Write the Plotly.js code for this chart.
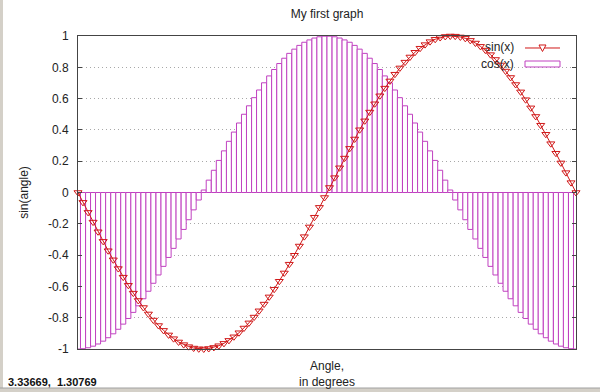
<!DOCTYPE html>
<html>
<head>
<meta charset="utf-8">
<script src="https://cdn.plot.ly/plotly-3.0.1.min.js"></script>
<style>html,body{margin:0;padding:0;background:#fff;}#chart{width:600px;height:392px;}</style>
</head>
<body>
<div id="chart"></div>
<script>
// Angle samples (degrees), 100 samples from -180 to 180
const angles = [-180, -176.4, -172.7, -169.1, -165.5, -161.8, -158.2, -154.5, -150.9, -147.3,
  -143.6, -140, -136.4, -132.7, -129.1, -125.5, -121.8, -118.2, -114.5, -110.9,
  -107.3, -103.6, -100, -96.4, -92.7, -89.1, -85.5, -81.8, -78.2, -74.5,
  -70.9, -67.3, -63.6, -60, -56.4, -52.7, -49.1, -45.5, -41.8, -38.2,
  -34.5, -30.9, -27.3, -23.6, -20, -16.4, -12.7, -9.1, -5.5, -1.8,
  1.8, 5.5, 9.1, 12.7, 16.4, 20, 23.6, 27.3, 30.9, 34.5,
  38.2, 41.8, 45.5, 49.1, 52.7, 56.4, 60, 63.6, 67.3, 70.9,
  74.5, 78.2, 81.8, 85.5, 89.1, 92.7, 96.4, 100, 103.6, 107.3,
  110.9, 114.5, 118.2, 121.8, 125.5, 129.1, 132.7, 136.4, 140, 143.6,
  147.3, 150.9, 154.5, 158.2, 161.8, 165.5, 169.1, 172.7, 176.4, 180];

const sinValues = [0, -0.063, -0.127, -0.189, -0.251, -0.312, -0.372, -0.430, -0.486, -0.541,
  -0.593, -0.643, -0.690, -0.735, -0.776, -0.815, -0.850, -0.881, -0.910, -0.934,
  -0.955, -0.972, -0.985, -0.994, -0.999, -1.000, -0.997, -0.990, -0.979, -0.964,
  -0.945, -0.922, -0.896, -0.866, -0.833, -0.796, -0.756, -0.713, -0.667, -0.618,
  -0.567, -0.514, -0.458, -0.401, -0.342, -0.282, -0.220, -0.158, -0.095, -0.032,
  0.032, 0.095, 0.158, 0.220, 0.282, 0.342, 0.401, 0.458, 0.514, 0.567,
  0.618, 0.667, 0.713, 0.756, 0.796, 0.833, 0.866, 0.896, 0.922, 0.945,
  0.964, 0.979, 0.990, 0.997, 1.000, 0.999, 0.994, 0.985, 0.972, 0.955,
  0.934, 0.910, 0.881, 0.850, 0.815, 0.776, 0.735, 0.690, 0.643, 0.593,
  0.541, 0.486, 0.430, 0.372, 0.312, 0.251, 0.189, 0.127, 0.063, 0];

const cosValues = [-1, -0.998, -0.992, -0.982, -0.968, -0.950, -0.928, -0.903, -0.874, -0.841,
  -0.805, -0.766, -0.724, -0.679, -0.631, -0.580, -0.527, -0.472, -0.415, -0.357,
  -0.297, -0.236, -0.174, -0.111, -0.048, 0.016, 0.079, 0.142, 0.205, 0.266,
  0.327, 0.386, 0.444, 0.500, 0.554, 0.606, 0.655, 0.701, 0.745, 0.786,
  0.824, 0.858, 0.889, 0.916, 0.940, 0.960, 0.975, 0.987, 0.995, 0.999,
  0.999, 0.995, 0.987, 0.975, 0.960, 0.940, 0.916, 0.889, 0.858, 0.824,
  0.786, 0.745, 0.701, 0.655, 0.606, 0.554, 0.500, 0.444, 0.386, 0.327,
  0.266, 0.205, 0.142, 0.079, 0.016, -0.048, -0.111, -0.174, -0.236, -0.297,
  -0.357, -0.415, -0.472, -0.527, -0.580, -0.631, -0.679, -0.724, -0.766, -0.805,
  -0.841, -0.874, -0.903, -0.928, -0.950, -0.968, -0.982, -0.992, -0.998, -1];

const yTickValues = [-1, -0.8, -0.6, -0.4, -0.2, 0, 0.2, 0.4, 0.6, 0.8, 1];
const yTickLabels = ["-1", "-0.8", "-0.6", "-0.4", "-0.2", "0", "0.2", "0.4", "0.6", "0.8", "1"];
const seriesNames = ["sin(x)", "cos(x)"];
const statusText = "3.33669,&nbsp; 1.30769";

const SIN_COLOR = '#d01818';
const COS_COLOR = '#c040c0';
const FONT = 'Liberation Sans, Arial, sans-serif';

const boxWidth = (angles[angles.length - 1] - angles[0]) / (angles.length - 1);

const traces = [
  {
    type: 'bar',
    name: seriesNames[1],
    x: angles,
    y: cosValues,
    width: boxWidth,
    marker: { color: '#ffffff', line: { color: COS_COLOR, width: 1 } },
    showlegend: false,
    hoverinfo: 'x+y'
  },
  {
    type: 'scatter',
    mode: 'lines+markers',
    name: seriesNames[0],
    x: angles,
    y: sinValues,
    line: { color: SIN_COLOR, width: 1 },
    marker: { symbol: 'triangle-down-open', size: 7, color: SIN_COLOR, line: { width: 1 } },
    showlegend: false,
    cliponaxis: false
  }
];

const layout = {
  width: 600,
  height: 392,
  margin: { l: 78, r: 24, t: 36, b: 43, pad: 0 },
  paper_bgcolor: '#ffffff',
  plot_bgcolor: '#ffffff',
  font: { family: FONT, size: 12, color: '#222' },
  bargap: 0,
  showlegend: false,
  title: {
    text: 'My first graph',
    font: { family: FONT, size: 12, color: '#222' },
    x: 0.5, xref: 'paper', xanchor: 'center',
    y: 1 - 14 / 392, yref: 'container', yanchor: 'middle'
  },
  xaxis: {
    range: [-180, 180],
    showline: true, mirror: true, linecolor: '#444', linewidth: 1,
    showgrid: false, zeroline: false,
    ticks: '', showticklabels: false,
    title: { text: 'Angle,<br>in degrees', font: { family: FONT, size: 12, color: '#222' }, standoff: 12 }
  },
  yaxis: {
    range: [-1, 1],
    tickmode: 'array', tickvals: yTickValues, ticktext: yTickLabels,
    ticks: 'inside', ticklen: 4, tickcolor: '#444',
    showline: true, mirror: 'ticks', linecolor: '#444', linewidth: 1,
    showgrid: true, gridcolor: '#a8a8a8', griddash: '1px,3px', gridwidth: 1,
    zeroline: false,
    ticklabelstandoff: 6,
    tickfont: { family: FONT, size: 12, color: '#222' },
    title: { text: 'sin(angle)', font: { family: FONT, size: 12, color: '#222' }, standoff: 16 }
  },
  shapes: [
    // key background hides grid beneath the key
    { type: 'rect', xref: 'paper', yref: 'paper', x0: 0.783, x1: 0.984, y0: 0.885, y1: 0.987,
      fillcolor: '#ffffff', line: { width: 0 }, layer: 'between' },
    // key sample: sin line
    { type: 'line', xref: 'paper', yref: 'paper', x0: 0.8976, x1: 0.9679, y0: 0.9617, y1: 0.9617,
      line: { color: SIN_COLOR, width: 1 } },
    // key sample: sin marker
    { type: 'path', xref: 'paper', yref: 'paper', xsizemode: 'pixel', ysizemode: 'pixel',
      xanchor: 0.9327, yanchor: 0.9617, path: 'M -3.5,3 L 3.5,3 L 0,-3.5 Z',
      fillcolor: '#ffffff', line: { color: SIN_COLOR, width: 1 } },
    // key sample: cos box
    { type: 'rect', xref: 'paper', yref: 'paper', x0: 0.8976, x1: 0.9679, y0: 0.9010, y1: 0.9201,
      fillcolor: '#ffffff', line: { color: COS_COLOR, width: 1 } },
    // window frame: left edge
    { type: 'rect', xref: 'paper', yref: 'paper', x0: -78 / 498, x1: -75 / 498, y0: -43 / 313, y1: 349 / 313,
      fillcolor: '#d4d0c8', line: { width: 0 } },
    // window frame: bottom status bar edge
    { type: 'rect', xref: 'paper', yref: 'paper', x0: -78 / 498, x1: 522 / 498, y0: -43 / 313, y1: -39 / 313,
      fillcolor: '#d4d0c8', line: { width: 0 } },
    { type: 'line', xref: 'paper', yref: 'paper', x0: -78 / 498, x1: 522 / 498, y0: -39 / 313, y1: -39 / 313,
      line: { color: '#a0a0a0', width: 1 } }
  ],
  annotations: [
    { text: seriesNames[0], xref: 'paper', yref: 'paper', x: 0.8795, y: 0.965,
      xanchor: 'right', yanchor: 'middle', showarrow: false, font: { family: FONT, size: 12, color: '#222' } },
    { text: seriesNames[1], xref: 'paper', yref: 'paper', x: 0.8795, y: 0.9105,
      xanchor: 'right', yanchor: 'middle', showarrow: false, font: { family: FONT, size: 12, color: '#222' } },
    { text: '<b>' + statusText + '</b>', xref: 'paper', yref: 'paper', x: -72 / 498, y: -33 / 313,
      xanchor: 'left', yanchor: 'middle', showarrow: false, font: { family: FONT, size: 11, color: '#111' } }
  ]
};

Plotly.newPlot('chart', traces, layout, { staticPlot: true, displayModeBar: false });
</script>
</body>
</html>
